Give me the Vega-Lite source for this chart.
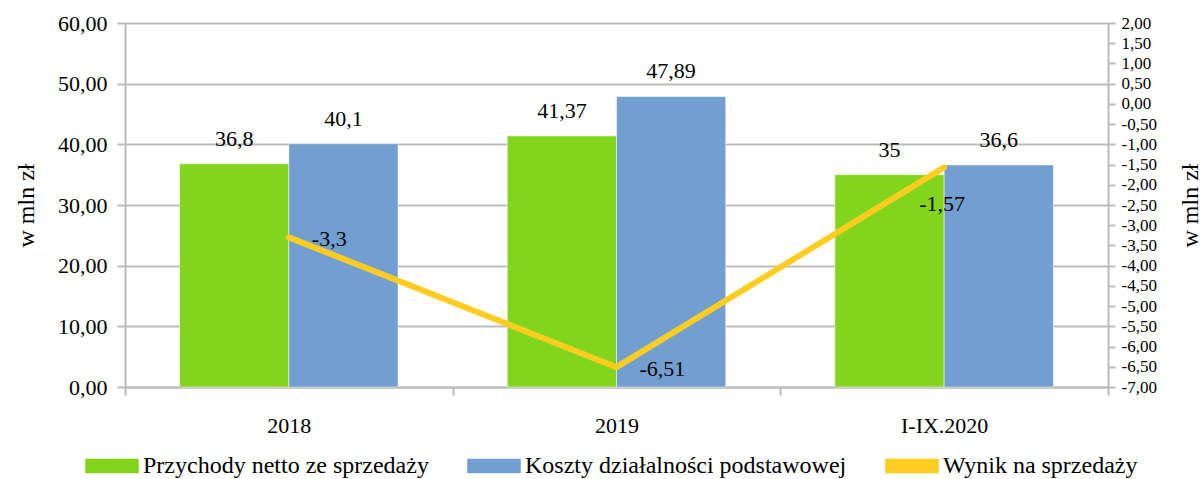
{
  "$schema": "https://vega.github.io/schema/vega-lite/v6.json",
  "width": 983,
  "height": 364,
  "autosize": "none",
  "padding": {"left": 125, "top": 23, "right": 95, "bottom": 92},
  "background": "white",
  "config": {
    "font": "Liberation Serif",
    "view": {"stroke": null},
    "locale": {"number": {"decimal": ",", "thousands": " ", "grouping": [3], "currency": ["", " zł"], "minus": "-"}},
    "text": {"font": "Liberation Serif"},
    "axis": {"labelFont": "Liberation Serif", "titleFont": "Liberation Serif", "titleFontSize": 24, "labelColor": "#000", "titleColor": "#000", "titleFontWeight": "normal", "domainColor": "#BBBBBB", "domainWidth": 2, "tickColor": "#BBBBBB", "tickWidth": 2, "gridColor": "#BBBBBB", "gridWidth": 2},
    "legend": {"labelFont": "Liberation Serif", "labelColor": "#000", "labelLimit": 0}
  },
  "data": {
    "values": [
      {"okres": "2018", "seria": "Przychody netto ze sprzedaży", "wartosc": 36.8},
      {"okres": "2019", "seria": "Przychody netto ze sprzedaży", "wartosc": 41.37},
      {"okres": "I-IX.2020", "seria": "Przychody netto ze sprzedaży", "wartosc": 35},
      {"okres": "2018", "seria": "Koszty działalności podstawowej", "wartosc": 40.1},
      {"okres": "2019", "seria": "Koszty działalności podstawowej", "wartosc": 47.89},
      {"okres": "I-IX.2020", "seria": "Koszty działalności podstawowej", "wartosc": 36.6},
      {"okres": "2018", "seria": "Wynik na sprzedaży", "wartosc": -3.3},
      {"okres": "2019", "seria": "Wynik na sprzedaży", "wartosc": -6.51},
      {"okres": "I-IX.2020", "seria": "Wynik na sprzedaży", "wartosc": -1.57}
    ]
  },
  "encoding": {
    "x": {
      "field": "okres", "type": "nominal", "sort": ["2018", "2019", "I-IX.2020"],
      "scale": {"paddingInner": 0, "paddingOuter": 0},
      "axis": {"title": null, "labelAngle": 0, "labelFontSize": 22, "labelPadding": 20, "tickBand": "extent", "tickSize": 8, "ticks": true, "domain": true, "grid": false}
    }
  },
  "layer": [
    {
      "transform": [{"filter": "datum.seria !== 'Wynik na sprzedaży'"}],
      "encoding": {
        "xOffset": {"field": "seria", "type": "nominal", "sort": ["Przychody netto ze sprzedaży", "Koszty działalności podstawowej"], "scale": {"paddingInner": 0, "paddingOuter": 0.5}},
        "y": {
          "field": "wartosc", "type": "quantitative",
          "scale": {"domain": [0, 60], "nice": false, "zero": true},
          "axis": {"title": "w mln zł", "titleFontSize": 24, "titleX": -99, "titleY": 182, "titleAngle": 270, "titleAlign": "center", "titleBaseline": "middle", "values": [0, 10, 20, 30, 40, 50, 60], "format": ".2f", "labelFontSize": 22, "tickSize": 8, "labelPadding": 10, "grid": true, "domain": true}
        }
      },
      "layer": [
        {
          "mark": {"type": "bar", "stroke": "white", "strokeWidth": 0.5},
          "encoding": {
            "color": {
              "field": "seria", "type": "nominal",
              "scale": {"domain": ["Przychody netto ze sprzedaży", "Koszty działalności podstawowej", "Wynik na sprzedaży"], "range": ["#82D41C", "#729FCF", "#FFCD22"]},
              "legend": {
                "title": null, "orient": "none", "direction": "horizontal", "legendX": -40, "legendY": 416,
                "labelFontSize": 24, "symbolSize": 2704, "columnPadding": 36, "labelOffset": 4,
                "symbolType": "M-1,-0.25H1V0.25H-1Z",
                "encode": {
                  "symbols": {
                    "update": {
                      "shape": {"signal": "datum.value === 'Wynik na sprzedaży' ? 'M-1,0H1' : 'M-1,-0.25H1V0.25H-1Z'"},
                      "fill": {"signal": "datum.value === 'Wynik na sprzedaży' ? 'transparent' : (datum.value === 'Przychody netto ze sprzedaży' ? '#82D41C' : '#729FCF')"},
                      "stroke": {"signal": "datum.value === 'Wynik na sprzedaży' ? '#FFCD22' : 'transparent'"},
                      "strokeWidth": {"signal": "datum.value === 'Wynik na sprzedaży' ? 6 : 0"},
                      "strokeCap": {"value": "round"},
                      "opacity": {"value": 1}
                    }
                  }
                }
              }
            }
          }
        },
        {
          "mark": {"type": "text", "fontSize": 22, "baseline": "alphabetic", "dy": -18, "color": "#000"},
          "encoding": {"text": {"field": "wartosc", "type": "quantitative", "format": "~g"}}
        }
      ]
    },
    {
      "transform": [{"filter": "datum.seria === 'Wynik na sprzedaży'"}],
      "encoding": {
        "y": {
          "field": "wartosc", "type": "quantitative",
          "scale": {"domain": [-7, 2], "nice": false, "zero": false},
          "axis": {"orient": "right", "title": "w mln zł", "titleAngle": 270, "titleFontSize": 24, "titleX": 82, "titleY": 182, "titleAlign": "center", "titleBaseline": "middle", "values": [-7, -6.5, -6, -5.5, -5, -4.5, -4, -3.5, -3, -2.5, -2, -1.5, -1, -0.5, 0, 0.5, 1, 1.5, 2], "format": ".2f", "labelFontSize": 17, "tickSize": 7, "labelPadding": 6, "grid": false, "domain": true}
        }
      },
      "layer": [
        {
          "mark": {"type": "line", "strokeWidth": 6, "strokeCap": "round", "strokeJoin": "miter"},
          "encoding": {"color": {"field": "seria", "type": "nominal"}}
        },
        {
          "transform": [{"filter": "datum.okres !== 'I-IX.2020'"}],
          "mark": {"type": "text", "fontSize": 22, "align": "left", "baseline": "alphabetic", "dx": 23, "dy": 9, "color": "#000"},
          "encoding": {"text": {"field": "wartosc", "type": "quantitative", "format": "~g"}}
        },
        {
          "transform": [{"filter": "datum.okres === 'I-IX.2020'"}],
          "mark": {"type": "text", "fontSize": 22, "align": "center", "baseline": "alphabetic", "dx": -2, "dy": 44, "color": "#000"},
          "encoding": {"text": {"field": "wartosc", "type": "quantitative", "format": "~g"}}
        }
      ]
    }
  ],
  "resolve": {"scale": {"y": "independent"}}
}
